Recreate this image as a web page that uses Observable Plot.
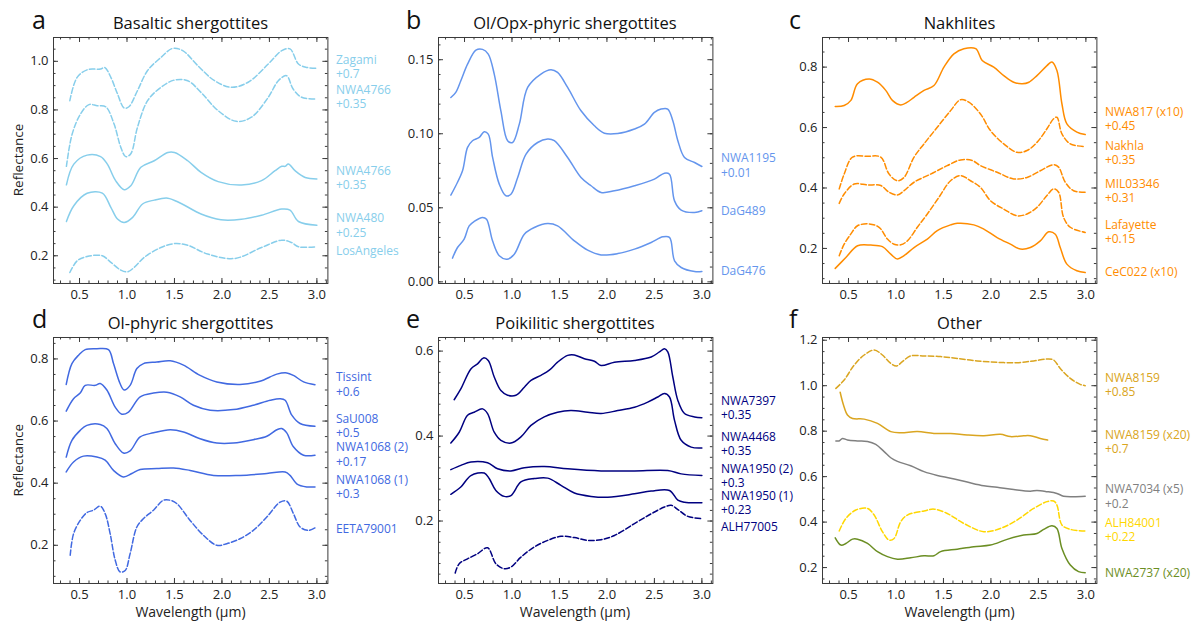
<!DOCTYPE html>
<html><head><meta charset="utf-8">
<script src="https://cdn.jsdelivr.net/npm/d3@7"></script>
<script src="https://cdn.jsdelivr.net/npm/@observablehq/plot@0.6"></script>
<style>
html,body{margin:0;padding:0;background:#fff;overflow:hidden;}
#root{position:relative;width:1199px;height:624px;font-family:'Open Sans',sans-serif;background:#fff;}
#root > div.p{position:absolute;}
#root svg{overflow:visible;}
</style></head><body><div id="root"></div>
<script>
// ---------- DATA ----------
const xTicks = [0.5, 1.0, 1.5, 2.0, 2.5, 3.0];

// a: Basaltic shergottites
const aZagami = [[0.398,0.838],[0.475,0.934],[0.588,0.966],[0.722,0.968],[0.765,0.975],[0.83,0.934],[0.90,0.866],[0.97,0.808],[1.02,0.813],[1.11,0.879],[1.217,0.962],[1.358,1.016],[1.48,1.053],[1.587,1.044],[1.746,0.982],[1.923,0.92],[2.1,0.893],[2.276,0.914],[2.488,0.989],[2.63,1.044],[2.717,1.051],[2.806,0.989],[2.894,0.975],[3.0,0.971]];
const aNWA4766d = [[0.362,0.568],[0.422,0.70],[0.51,0.783],[0.6,0.822],[0.687,0.817],[0.776,0.813],[0.864,0.742],[0.935,0.646],[0.987,0.608],[1.04,0.62],[1.11,0.728],[1.217,0.838],[1.358,0.893],[1.5,0.923],[1.64,0.92],[1.78,0.872],[1.96,0.797],[2.15,0.753],[2.31,0.77],[2.488,0.852],[2.594,0.92],[2.68,0.941],[2.75,0.886],[2.84,0.852],[3.0,0.845]];
const aNWA4766s = [[0.362,0.492],[0.44,0.577],[0.58,0.614],[0.722,0.608],[0.793,0.577],[0.88,0.509],[0.97,0.472],[1.04,0.488],[1.146,0.564],[1.287,0.591],[1.43,0.625],[1.5,0.625],[1.64,0.591],[1.78,0.543],[1.96,0.505],[2.206,0.491],[2.417,0.509],[2.56,0.55],[2.63,0.568],[2.665,0.568],[2.70,0.578],[2.77,0.55],[2.877,0.522],[3.0,0.516]];
const aNWA480 = [[0.362,0.341],[0.44,0.406],[0.58,0.457],[0.74,0.458],[0.83,0.399],[0.90,0.351],[0.97,0.337],[1.06,0.358],[1.164,0.413],[1.287,0.429],[1.43,0.437],[1.57,0.415],[1.78,0.372],[1.99,0.348],[2.206,0.35],[2.417,0.367],[2.63,0.392],[2.717,0.388],[2.806,0.341],[3.0,0.326]];
const aLosAngeles = [[0.398,0.131],[0.475,0.179],[0.58,0.197],[0.74,0.2],[0.83,0.173],[0.935,0.141],[1.005,0.134],[1.075,0.152],[1.18,0.193],[1.358,0.234],[1.5,0.25],[1.64,0.243],[1.85,0.207],[2.135,0.189],[2.417,0.234],[2.63,0.264],[2.735,0.254],[2.806,0.237],[3.0,0.237]];
const aLabels = ["Zagami\n+0.7", "NWA4766\n+0.35", "NWA4766\n+0.35", "NWA480\n+0.25", "LosAngeles"];
const aLabelY = [0.978, 0.857, 0.521, 0.327, 0.221];

// b: Ol/Opx-phyric shergottites
const bNWA1195 = [[0.356,0.1245],[0.408,0.128],[0.461,0.1358],[0.532,0.147],[0.62,0.1565],[0.69,0.157],[0.75,0.1538],[0.813,0.1403],[0.883,0.1155],[0.954,0.0953],[1.006,0.0941],[1.077,0.1065],[1.165,0.1313],[1.305,0.1403],[1.41,0.1432],[1.48,0.1414],[1.586,0.1313],[1.727,0.1155],[1.868,0.1054],[1.973,0.1004],[2.114,0.1002],[2.29,0.1032],[2.395,0.1065],[2.5,0.1144],[2.57,0.1167],[2.64,0.1167],[2.694,0.1088],[2.747,0.0953],[2.817,0.084],[2.923,0.0806],[3.0,0.0779]];
const bDaG489 = [[0.356,0.0586],[0.408,0.0649],[0.479,0.075],[0.532,0.0908],[0.584,0.0953],[0.655,0.0975],[0.707,0.1014],[0.75,0.0998],[0.796,0.084],[0.866,0.066],[0.936,0.0581],[0.989,0.0592],[1.06,0.0705],[1.148,0.0863],[1.27,0.0941],[1.376,0.0964],[1.446,0.0953],[1.586,0.084],[1.727,0.0705],[1.833,0.0649],[1.938,0.0604],[2.079,0.0615],[2.29,0.0649],[2.5,0.0694],[2.606,0.0734],[2.659,0.0727],[2.712,0.0547],[2.782,0.0484],[2.923,0.0468],[3.0,0.048]];
const bDaG476 = [[0.373,0.016],[0.426,0.0232],[0.496,0.0288],[0.549,0.0378],[0.602,0.0408],[0.69,0.0435],[0.732,0.0423],[0.795,0.0277],[0.866,0.0176],[0.947,0.0153],[1.024,0.0187],[1.13,0.0322],[1.235,0.0367],[1.376,0.0394],[1.48,0.0378],[1.657,0.0277],[1.797,0.0214],[1.938,0.0182],[2.114,0.0191],[2.29,0.0221],[2.466,0.0266],[2.589,0.0304],[2.659,0.03],[2.712,0.0142],[2.782,0.0097],[2.923,0.007],[3.0,0.007]];
const bLabels = ["NWA1195\n+0.01", "DaG489", "DaG476"];
const bLabelY = [0.0789, 0.0484, 0.0079];

// c: Nakhlites
const cNWA817 = [[0.36,0.670],[0.454,0.673],[0.525,0.690],[0.595,0.745],[0.717,0.761],[0.805,0.75],[0.892,0.723],[0.962,0.690],[1.05,0.675],[1.12,0.684],[1.19,0.70],[1.295,0.723],[1.4,0.739],[1.505,0.80],[1.61,0.844],[1.715,0.861],[1.84,0.861],[1.908,0.822],[2.03,0.80],[2.135,0.772],[2.24,0.75],[2.33,0.745],[2.4,0.75],[2.485,0.772],[2.59,0.805],[2.643,0.817],[2.695,0.789],[2.748,0.678],[2.8,0.612],[2.905,0.585],[2.993,0.577]];
const cNakhla = [[0.402,0.397],[0.454,0.446],[0.542,0.502],[0.70,0.505],[0.84,0.502],[0.927,0.446],[1.015,0.424],[1.085,0.435],[1.19,0.502],[1.295,0.546],[1.435,0.601],[1.575,0.656],[1.68,0.692],[1.767,0.684],[1.89,0.645],[1.995,0.59],[2.135,0.546],[2.275,0.518],[2.38,0.524],[2.485,0.551],[2.59,0.596],[2.66,0.629],[2.695,0.634],[2.748,0.579],[2.836,0.546],[2.993,0.537]];
const cMIL03346 = [[0.402,0.349],[0.454,0.38],[0.56,0.413],[0.70,0.41],[0.84,0.408],[0.927,0.386],[1.015,0.377],[1.085,0.391],[1.19,0.419],[1.365,0.446],[1.54,0.474],[1.68,0.493],[1.803,0.491],[1.89,0.474],[2.065,0.452],[2.24,0.43],[2.38,0.435],[2.52,0.457],[2.66,0.477],[2.713,0.469],[2.783,0.419],[2.87,0.391],[2.993,0.386]];
const cLafayette = [[0.402,0.176],[0.454,0.214],[0.525,0.248],[0.595,0.275],[0.717,0.281],[0.822,0.27],[0.91,0.231],[0.98,0.214],[1.05,0.212],[1.12,0.225],[1.225,0.27],[1.33,0.314],[1.452,0.369],[1.575,0.424],[1.68,0.441],[1.785,0.424],[1.89,0.402],[1.995,0.358],[2.135,0.330],[2.275,0.308],[2.38,0.314],[2.485,0.336],[2.59,0.375],[2.66,0.397],[2.713,0.386],[2.765,0.303],[2.836,0.27],[2.993,0.253]];
const cCeC022 = [[0.36,0.134],[0.472,0.17],[0.595,0.209],[0.735,0.211],[0.857,0.206],[0.945,0.181],[1.015,0.165],[1.085,0.176],[1.19,0.203],[1.33,0.231],[1.435,0.259],[1.575,0.278],[1.645,0.283],[1.82,0.278],[1.925,0.264],[2.065,0.236],[2.205,0.214],[2.31,0.198],[2.415,0.203],[2.52,0.225],[2.608,0.255],[2.678,0.247],[2.73,0.203],[2.8,0.148],[2.905,0.126],[2.993,0.12]];
const cLabels = ["NWA817 (x10)\n+0.45", "Nakhla\n+0.35", "MIL03346\n+0.31", "Lafayette\n+0.15", "CeC022 (x10)"];
const cLabelY = [0.630, 0.5166, 0.392, 0.257, 0.123];

// d: Ol-phyric shergottites
const dTissint = [[0.36,0.718],[0.42,0.785],[0.49,0.812],[0.56,0.83],[0.683,0.833],[0.805,0.83],[0.858,0.785],[0.928,0.72],[0.97,0.70],[1.033,0.715],[1.104,0.769],[1.174,0.785],[1.314,0.79],[1.455,0.794],[1.595,0.78],[1.77,0.747],[1.946,0.726],[2.19,0.718],[2.40,0.728],[2.578,0.751],[2.683,0.755],[2.753,0.747],[2.86,0.726],[2.98,0.717]];
const dSaU008 = [[0.36,0.632],[0.437,0.672],[0.507,0.69],[0.56,0.715],[0.665,0.715],[0.718,0.721],[0.788,0.70],[0.876,0.645],[0.946,0.622],[1.016,0.629],[1.139,0.678],[1.279,0.69],[1.42,0.693],[1.56,0.678],[1.70,0.651],[1.876,0.635],[2.12,0.637],[2.33,0.651],[2.508,0.667],[2.613,0.672],[2.666,0.667],[2.736,0.619],[2.823,0.592],[2.98,0.583]];
const dNWA1068b = [[0.36,0.484],[0.42,0.538],[0.507,0.57],[0.577,0.586],[0.718,0.589],[0.788,0.576],[0.876,0.527],[0.963,0.497],[1.033,0.504],[1.139,0.549],[1.279,0.562],[1.455,0.572],[1.595,0.565],[1.77,0.543],[1.946,0.529],[2.12,0.529],[2.33,0.54],[2.473,0.551],[2.578,0.572],[2.63,0.576],[2.683,0.562],[2.753,0.517],[2.86,0.49],[2.98,0.49]];
const dNWA1068a = [[0.36,0.436],[0.437,0.468],[0.542,0.487],[0.683,0.484],[0.77,0.474],[0.858,0.441],[0.963,0.42],[1.051,0.431],[1.139,0.444],[1.314,0.447],[1.49,0.449],[1.665,0.441],[1.911,0.425],[2.19,0.425],[2.473,0.431],[2.666,0.436],[2.718,0.425],[2.788,0.398],[2.893,0.388],[2.98,0.388]];
const dEETA79001 = [[0.402,0.168],[0.437,0.237],[0.507,0.28],[0.577,0.305],[0.647,0.313],[0.718,0.326],[0.77,0.302],[0.823,0.237],[0.876,0.152],[0.928,0.114],[0.981,0.119],[1.033,0.173],[1.104,0.259],[1.174,0.286],[1.279,0.313],[1.384,0.345],[1.455,0.345],[1.525,0.334],[1.665,0.28],[1.806,0.232],[1.946,0.2],[2.051,0.205],[2.19,0.221],[2.33,0.248],[2.473,0.291],[2.613,0.339],[2.683,0.342],[2.753,0.302],[2.823,0.259],[2.911,0.248],[2.98,0.256]];
const dLabels = ["Tissint\n+0.6", "SaU008\n+0.5", "NWA1068 (2)\n+0.17", "NWA1068 (1)\n+0.3", "EETA79001"];
const dLabelY = [0.7195, 0.5855, 0.494, 0.389, 0.2557];

// e: Poikilitic shergottites
const eNWA7397 = [[0.391,0.4855],[0.461,0.511],[0.567,0.558],[0.637,0.570],[0.70,0.584],[0.75,0.578],[0.813,0.539],[0.883,0.507],[0.954,0.496],[1.041,0.496],[1.13,0.515],[1.2,0.531],[1.305,0.543],[1.393,0.555],[1.48,0.574],[1.586,0.59],[1.657,0.591],[1.762,0.582],[1.868,0.576],[1.938,0.566],[2.079,0.574],[2.29,0.578],[2.466,0.586],[2.553,0.598],[2.606,0.6055],[2.641,0.598],[2.694,0.539],[2.747,0.484],[2.817,0.453],[2.923,0.445],[3.0,0.443]];
const eNWA4468 = [[0.356,0.3835],[0.444,0.409],[0.532,0.449],[0.602,0.456],[0.69,0.464],[0.743,0.453],[0.813,0.409],[0.883,0.39],[0.989,0.3835],[1.094,0.398],[1.2,0.425],[1.34,0.445],[1.48,0.456],[1.62,0.46],[1.797,0.456],[1.938,0.453],[2.114,0.46],[2.29,0.468],[2.43,0.48],[2.536,0.492],[2.606,0.50],[2.659,0.492],[2.712,0.437],[2.782,0.39],[2.887,0.374],[3.0,0.372]];
const eNWA1950b = [[0.356,0.321],[0.461,0.331],[0.567,0.339],[0.743,0.337],[0.848,0.323],[0.989,0.318],[1.13,0.3255],[1.34,0.3285],[1.586,0.323],[1.938,0.318],[2.29,0.318],[2.641,0.319],[2.782,0.311],[3.0,0.307]];
const eNWA1950a = [[0.356,0.263],[0.461,0.28],[0.567,0.307],[0.708,0.313],[0.76,0.30],[0.83,0.272],[0.918,0.258],[0.989,0.26],[1.094,0.292],[1.235,0.30],[1.376,0.301],[1.516,0.284],[1.657,0.266],[1.833,0.258],[2.009,0.256],[2.29,0.264],[2.466,0.2705],[2.659,0.272],[2.747,0.249],[2.817,0.244],[3.0,0.243]];
const eALH77005 = [[0.402,0.0776],[0.444,0.0996],[0.532,0.111],[0.637,0.123],[0.743,0.137],[0.83,0.0996],[0.918,0.0878],[0.989,0.0918],[1.094,0.115],[1.235,0.139],[1.376,0.1545],[1.516,0.164],[1.657,0.161],[1.797,0.1545],[1.938,0.156],[2.079,0.166],[2.29,0.194],[2.466,0.217],[2.606,0.233],[2.677,0.237],[2.747,0.227],[2.852,0.211],[3.0,0.2055]];
const eLabels = ["NWA7397\n+0.35", "NWA4468\n+0.35", "NWA1950 (2)\n+0.3", "NWA1950 (1)\n+0.23", "ALH77005"];
const eLabelY = [0.4664, 0.3828, 0.3082, 0.244, 0.1875];

// f: Other
const fNWA8159 = [[0.367,0.988],[0.454,1.025],[0.56,1.091],[0.665,1.135],[0.77,1.157],[0.857,1.135],[0.945,1.098],[1.008,1.087],[1.067,1.106],[1.155,1.131],[1.295,1.131],[1.47,1.128],[1.645,1.12],[1.855,1.109],[2.065,1.103],[2.275,1.101],[2.45,1.109],[2.59,1.117],[2.66,1.113],[2.73,1.076],[2.836,1.032],[2.94,1.006],[2.993,1.0]];
const fNWA8159x20 = [[0.412,0.971],[0.447,0.915],[0.489,0.871],[0.542,0.856],[0.665,0.853],[0.805,0.834],[0.945,0.798],[1.05,0.793],[1.225,0.798],[1.4,0.79],[1.575,0.79],[1.75,0.783],[1.925,0.78],[2.1,0.786],[2.205,0.776],[2.345,0.78],[2.415,0.78],[2.52,0.768],[2.597,0.761]];
const fNWA7034 = [[0.367,0.757],[0.40,0.757],[0.437,0.768],[0.489,0.761],[0.595,0.757],[0.70,0.755],[0.787,0.742],[0.875,0.71],[0.945,0.683],[1.015,0.667],[1.155,0.648],[1.295,0.622],[1.435,0.605],[1.575,0.593],[1.75,0.576],[1.925,0.56],[2.065,0.553],[2.24,0.543],[2.415,0.536],[2.485,0.539],[2.59,0.534],[2.695,0.526],[2.765,0.514],[2.87,0.512],[2.993,0.514]];
const fALH84001 = [[0.402,0.361],[0.472,0.416],[0.577,0.453],[0.70,0.46],[0.77,0.431],[0.857,0.358],[0.927,0.321],[0.98,0.328],[1.05,0.402],[1.12,0.431],[1.295,0.449],[1.4,0.457],[1.54,0.438],[1.715,0.394],[1.925,0.358],[2.1,0.372],[2.275,0.409],[2.45,0.46],[2.59,0.49],[2.66,0.493],[2.695,0.475],[2.748,0.387],[2.836,0.368],[2.993,0.361]];
const fNWA2737 = [[0.36,0.331],[0.42,0.299],[0.472,0.306],[0.542,0.325],[0.595,0.325],[0.70,0.306],[0.805,0.27],[0.91,0.248],[1.015,0.237],[1.155,0.243],[1.295,0.252],[1.4,0.252],[1.47,0.27],[1.645,0.281],[1.82,0.292],[1.995,0.299],[2.17,0.324],[2.345,0.343],[2.485,0.35],[2.555,0.368],[2.643,0.384],[2.695,0.372],[2.748,0.284],[2.836,0.211],[2.923,0.182],[2.993,0.177]];
const fLabels = ["NWA8159\n+0.85", "NWA8159 (x20)\n+0.7", "NWA7034 (x5)\n+0.2", "ALH84001\n+0.22", "NWA2737 (x20)"];
const fLabelY = [1.0044, 0.756, 0.515, 0.367, 0.179];

// ---------- LAYOUT / STYLE ----------
const FRAME_L = [53.3, 437.7, 822.3], FRAME_T = [37, 337.3], FW = 274.4, FH = 246;
const ML = 50, MT = 6, MR = 110, MB = 30;
const XDOM = [0.226, 3.116];
const INK = "#3a3a3a";
const FONT = "'Open Sans', sans-serif";
const DASH = "5.5,2.4";
const C = {a: "#87ceeb", b: "#6495ed", c: "#ff8c00", d: "#4169e1", e: "#000080",
  gold1: "#daa520", gray: "#808080", gold2: "#ffd700", olive: "#6b8e23"};

const panels = [
  {col: 0, row: 0, letter: "a", title: "Basaltic shergottites", yDomain: [0.086, 1.098], yTicks: [0.2,0.4,0.6,0.8,1.0], minor: 0.05, fmt: ".1f",
   series: [[aZagami, C.a, true], [aNWA4766d, C.a, true], [aNWA4766s, C.a, false], [aNWA480, C.a, false], [aLosAngeles, C.a, true]],
   labels: aLabels.map((t, i) => ({t, y: aLabelY[i], c: C.a}))},
  {col: 1, row: 0, letter: "b", title: "Ol/Opx-phyric shergottites", yDomain: [-0.0011, 0.165], yTicks: [0, 0.05, 0.10, 0.15], minor: 0.01, fmt: ".2f",
   series: [[bNWA1195, C.b, false], [bDaG489, C.b, false], [bDaG476, C.b, false]],
   labels: bLabels.map((t, i) => ({t, y: bLabelY[i], c: C.b}))},
  {col: 2, row: 0, letter: "c", title: "Nakhlites", yDomain: [0.084, 0.898], yTicks: [0.2,0.4,0.6,0.8], minor: 0.05, fmt: ".1f",
   series: [[cNWA817, C.c, false], [cNakhla, C.c, true], [cMIL03346, C.c, true], [cLafayette, C.c, true], [cCeC022, C.c, false]],
   labels: cLabels.map((t, i) => ({t, y: cLabelY[i], c: C.c}))},
  {col: 0, row: 1, letter: "d", title: "Ol-phyric shergottites", yDomain: [0.077, 0.869], yTicks: [0.2,0.4,0.6,0.8], minor: 0.05, fmt: ".1f",
   series: [[dTissint, C.d, false], [dSaU008, C.d, false], [dNWA1068b, C.d, false], [dNWA1068a, C.d, false], [dEETA79001, C.d, true]],
   labels: dLabels.map((t, i) => ({t, y: dLabelY[i], c: C.d}))},
  {col: 1, row: 1, letter: "e", title: "Poikilitic shergottites", yDomain: [0.053, 0.632], yTicks: [0.2,0.4,0.6], minor: 0.025, fmt: ".1f",
   series: [[eNWA7397, C.e, false], [eNWA4468, C.e, false], [eNWA1950b, C.e, false], [eNWA1950a, C.e, false], [eALH77005, C.e, true]],
   labels: eLabels.map((t, i) => ({t, y: eLabelY[i], c: C.e}))},
  {col: 2, row: 1, letter: "f", title: "Other", yDomain: [0.13, 1.212], yTicks: [0.2,0.4,0.6,0.8,1.0,1.2], minor: 0.05, fmt: ".1f",
   series: [[fNWA8159, C.gold1, true], [fNWA8159x20, C.gold1, false], [fNWA7034, C.gray, false], [fALH84001, C.gold2, true], [fNWA2737, C.olive, false]],
   labels: fLabels.map((t, i) => ({t, y: fLabelY[i], c: [C.gold1, C.gold1, C.gray, C.gold2, C.olive][i]}))}
];

const root = document.getElementById("root");

function tickRules(xs, ys, len) {
  return [
    Plot.ruleX(xs, {insetTop: FH - len, stroke: INK, strokeWidth: 1}),
    Plot.ruleX(xs, {insetBottom: FH - len, stroke: INK, strokeWidth: 1}),
    Plot.ruleY(ys, {insetRight: FW - len, stroke: INK, strokeWidth: 1}),
    Plot.ruleY(ys, {insetLeft: FW - len, stroke: INK, strokeWidth: 1})
  ];
}

for (const p of panels) {
  const xMinor = d3.range(3, 32).map(i => +(i / 10).toFixed(2));
  const i0 = Math.ceil(p.yDomain[0] / p.minor - 1e-9), i1 = Math.floor(p.yDomain[1] / p.minor + 1e-9);
  const yMinor = d3.range(i0, i1 + 1).map(i => +(i * p.minor).toFixed(4));
  const marks = [
    ...tickRules(xMinor, yMinor, 2.5),
    ...tickRules(xTicks, p.yTicks, 5),
    Plot.axisX(xTicks, {tickSize: 0, tickPadding: 6, tickFormat: d3.format(".1f"), label: null, fontSize: 13, fill: "#222"}),
    Plot.axisY(p.yTicks, {tickSize: 0, tickPadding: 5, tickFormat: d3.format(p.fmt), label: null, fontSize: 13, fill: "#222"}),
    ...p.series.map(([data, color, dashed]) => Plot.line(data, {
      x: d => d[0], y: d => d[1], stroke: color, strokeWidth: 1.5, curve: "catmull-rom",
      strokeDasharray: dashed ? DASH : null
    })),
    Plot.text(p.labels, {y: "y", text: "t", fill: "c", frameAnchor: "right", textAnchor: "start", dx: 8, fontSize: 12, lineHeight: 1.18}),
    Plot.frame({stroke: INK, strokeWidth: 1})
  ];
  const svg = Plot.plot({
    width: ML + FW + MR, height: MT + FH + MB,
    marginLeft: ML, marginRight: MR, marginTop: MT, marginBottom: MB,
    x: {domain: XDOM}, y: {domain: p.yDomain},
    style: {fontFamily: FONT, fontSize: "13px", background: "transparent", overflow: "visible", color: "#222"},
    marks
  });
  const div = document.createElement("div");
  div.className = "p";
  div.style.left = (FRAME_L[p.col] - ML) + "px";
  div.style.top = (FRAME_T[p.row] - MT) + "px";
  div.style.width = (ML + FW + MR) + "px";
  div.appendChild(svg);
  root.appendChild(div);
}

// overlay text: letters, titles, axis titles
const ov = d3.select(root).append("svg")
  .attr("width", 1199).attr("height", 624)
  .style("position", "absolute").style("left", 0).style("top", 0)
  .style("pointer-events", "none").style("font-family", FONT).style("overflow", "visible");
const letterX = [32, 406, 789], titleBase = [28.5, 329], letterBase = [29.3, 328.3];
for (const p of panels) {
  const cx = FRAME_L[p.col] + FW / 2;
  ov.append("text").attr("x", letterX[p.col]).attr("y", letterBase[p.row]).attr("font-size", 25).attr("fill", "#111").text(p.letter);
  ov.append("text").attr("x", cx).attr("y", titleBase[p.row]).attr("text-anchor", "middle").attr("font-size", 16.5).attr("fill", "#111").text(p.title);
  if (p.row === 1) ov.append("text").attr("x", cx).attr("y", 616.5).attr("text-anchor", "middle").attr("font-size", 14).attr("fill", "#222").text("Wavelength (µm)");
  if (p.col === 0) ov.append("text").attr("transform", `translate(23.3,${FRAME_T[p.row] + FH / 2}) rotate(-90)`).attr("text-anchor", "middle").attr("font-size", 13.5).attr("fill", "#222").text("Reflectance");
}
</script></body></html>
